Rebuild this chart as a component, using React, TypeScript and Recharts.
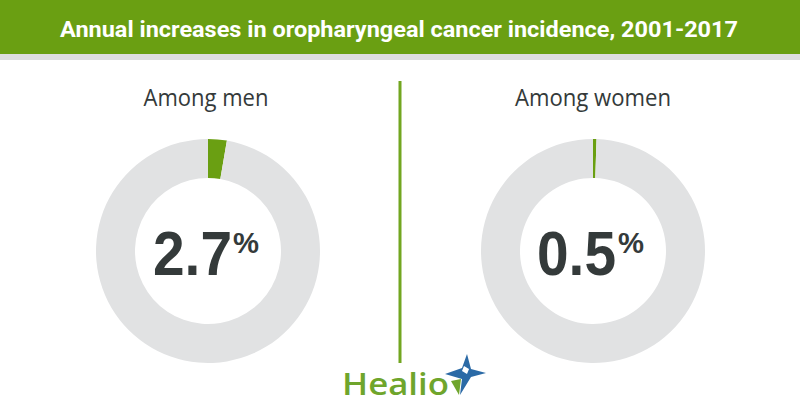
import { PieChart, Pie, Cell } from "recharts";

const title = "Annual increases in oropharyngeal cancer incidence, 2001-2017";
const groups = ["Among men", "Among women"];
const rates = [2.7, 0.5];
const rateLabels = ["2.7", "0.5"];

const GREEN = "#6a9f12";
const GRAY = "#e1e2e3";
const DARK = "#343a3a";

// donut centres and text placement per group
const layout = [
  { cx: 203, labelX: 206, numX: 153, pctX: 233, labelLen: 125 },
  { cx: 588, labelX: 593, numX: 537, pctX: 618, labelLen: 156 },
];

function donutData(v: number) {
  return [
    { name: "increase", value: v },
    { name: "rest", value: 100 - v },
  ];
}

export default function App() {
  return (
    <div style={{ position: "relative", width: 800, height: 420, background: "#fff", overflow: "hidden" }}>
      <style>{`body{margin:0}`}</style>
      <div style={{ position: "absolute", left: 0, top: 0, width: 800, height: 54, background: GREEN }} />
      <div style={{ position: "absolute", left: 0, top: 54, width: 800, height: 6, background: "#dedede" }} />

      <div style={{ position: "absolute", left: 0, top: 0 }}>
        <PieChart width={800} height={420}>
          {rates.map((r, i) => (
            <Pie
              key={groups[i]}
              data={donutData(r)}
              dataKey="value"
              cx={layout[i].cx}
              cy={246}
              innerRadius={73}
              outerRadius={112}
              startAngle={90}
              endAngle={-270}
              stroke="none"
              isAnimationActive={false}
            >
              <Cell fill={GREEN} />
              <Cell fill={GRAY} />
            </Pie>
          ))}
        </PieChart>
      </div>

      <svg
        width={800}
        height={420}
        style={{ position: "absolute", left: 0, top: 0, pointerEvents: "none" }}
      >
        <text
          x={60}
          y={37}
          textLength={678}
          lengthAdjust="spacingAndGlyphs"
          fill="#fff"
          fontFamily="Roboto, sans-serif"
          fontWeight={700}
          fontSize={22}
        >
          {title}
        </text>

        {groups.map((g, i) => (
          <g key={g}>
            <text
              x={layout[i].labelX - layout[i].labelLen / 2}
              y={106}
              textLength={layout[i].labelLen}
              lengthAdjust="spacingAndGlyphs"
              fill={DARK}
              fontFamily="'Open Sans', sans-serif"
              fontSize={23}
            >
              {g}
            </text>
            <text
              fill={DARK}
              fontFamily="'Liberation Sans', Arial, sans-serif"
              fontWeight={700}
            >
              <tspan x={layout[i].numX} y={275} fontSize={63} textLength={79} lengthAdjust="spacingAndGlyphs">
                {rateLabels[i]}
              </tspan>
              <tspan x={layout[i].pctX} y={253} fontSize={30} textLength={26} lengthAdjust="spacingAndGlyphs">
                %
              </tspan>
            </text>
          </g>
        ))}

        <rect x={398.5} y={81} width={3} height={282} fill="#72a620" />

        <text
          x={342}
          y={395}
          textLength={107}
          lengthAdjust="spacingAndGlyphs"
          fill="#6fa52c"
          fontFamily="'Open Sans', sans-serif"
          fontWeight={600}
          fontSize={31}
        >
          Healio
        </text>
        <polygon
          points="467,354 471,369 486,373 471,377 460,395 462,379 445,374 462,368"
          fill="#2b6aa6"
        />
        <polygon points="451,381 461,379 459,395" fill="#6fa52c" />
        <polygon points="464,366 469,369 467,374 462,371" fill="#fff" />
      </svg>
    </div>
  );
}
